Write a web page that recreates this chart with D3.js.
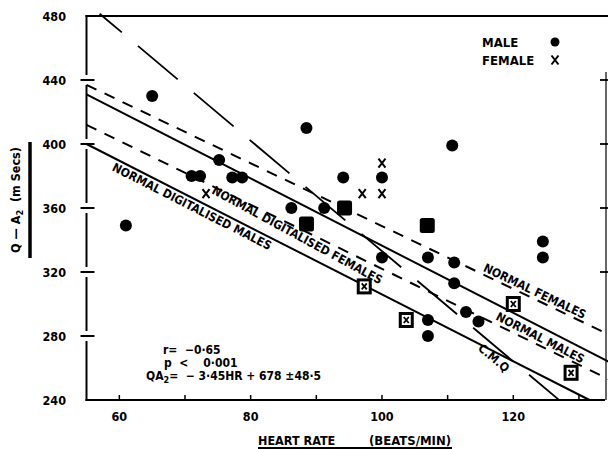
<!DOCTYPE html>
<html>
<head>
<meta charset="utf-8">
<script src="https://cdn.jsdelivr.net/npm/d3@7"></script>
<style>
  body { margin: 0; background: white; }
  svg { display: block; }
</style>
</head>
<body>
<svg id="chart"></svg>
<script>
(function(){

	// data
	var maleHR  = [65, 61, 71, 72.3, 75.2, 77.2, 78.7, 88.5, 86.2, 91.2, 94.1, 100, 100, 107, 107, 107, 111, 111, 110.7, 112.8, 114.7, 124.5, 124.5];
	var maleQA  = [430, 349, 380, 380, 390, 379, 379, 410, 360, 360, 379, 379, 329, 290, 280, 329, 326, 313, 399, 295, 289, 339, 329];
	var femaleHR = [97, 100, 100, 73.2];
	var femaleQA = [369, 369, 388, 369];
	var squareHR = [88.5, 94.3, 106.9];
	var squareQA = [350, 360, 349];
	var boxXHR = [97.3, 103.7, 120, 128.8];
	var boxXQA = [311, 290, 300, 257];

	// reference lines
	var lineNames = ["NORMAL FEMALES", "NORMAL MALES", "NORMAL DIGITALISED FEMALES", "NORMAL DIGITALISED MALES", "C.M.Q"];
	var lineX0 = [55, 55, 55, 55, 57];
	var lineY0 = [437, 431, 412, 400, 481.4];
	var lineX1 = [134.5, 134.5, 134.5, 131.6, 127];
	var lineY1 = [281, 264, 253, 240, 239.9];
	var lineDash = ["11,9", null, "11,9", null, "52,21"];

	// where each label sits along its line (heart rate), and how far off it
	var labelHR = [122.8, 124.8, 87.6, 71.6, 118];
	var labelOff = [-7, 10, 7, 8, 10];
	var labelTilt = [0, 0, 2.5, 0, 0];

	var xTicks = [60, 70, 80, 90, 100, 110, 120, 130];
	var xTickLabels = [60, 80, 100, 120];
	var yTicks = [240, 280, 320, 360, 400, 440, 480];

	var width = 608, height = 449;
	var fontFam = "'DejaVu Sans Condensed', 'Liberation Sans Narrow', 'DejaVu Sans', sans-serif";
	var nb = "\u00a0";

	var svg = d3.select("#chart").attr("width", width).attr("height", height);

	var x = d3.scaleLinear().domain([55, 134.5]).range([86.5, 608.5]);
	var y = d3.scaleLinear().domain([240, 480]).range([400, 16]);

	drawAxes();
	drawLines();
	drawPoints();
	drawText();

	function drawAxes(){
		// left spine, broken where the ticks cross it
		for(var i = 0; i < yTicks.length - 1; i++){
			var top = y(yTicks[i + 1]) + (i == yTicks.length - 2 ? -1 : 5);
			var bot = y(yTicks[i]) - (i == 0 ? -1 : 5);
			svg.append("line").attr("x1", x(55)).attr("x2", x(55)).attr("y1", top).attr("y2", bot)
				.attr("stroke", "black").attr("stroke-width", 2);
		}
		svg.append("line").attr("x1", x(55) - 1).attr("x2", 608).attr("y1", y(480)).attr("y2", y(480))
			.attr("stroke", "black").attr("stroke-width", 2.2);
		svg.append("line").attr("x1", x(55) - 1).attr("x2", 605).attr("y1", y(240)).attr("y2", y(240))
			.attr("stroke", "black").attr("stroke-width", 2.2);
		svg.append("line").attr("x1", 606).attr("x2", 606).attr("y1", y(445)).attr("y2", y(240))
			.attr("stroke", "black").attr("stroke-width", 1.2);

		svg.selectAll(".ytick").data(yTicks.slice(1, -1)).enter().append("line")
			.attr("x1", x(55) - 6).attr("x2", x(55) + 8)
			.attr("y1", function(d){ return y(d); }).attr("y2", function(d){ return y(d); })
			.attr("stroke", "black").attr("stroke-width", 2);
		svg.selectAll(".ytickR").data([440, 400, 360, 320]).enter().append("line")
			.attr("x1", 600).attr("x2", 608)
			.attr("y1", function(d){ return y(d); }).attr("y2", function(d){ return y(d); })
			.attr("stroke", "black").attr("stroke-width", 1.8);
		svg.selectAll(".ylab").data(yTicks).enter().append("text")
			.attr("x", 66).attr("y", function(d){ return y(d) + 4.5; })
			.attr("text-anchor", "end")
			.attr("font-family", fontFam).attr("font-weight", "bold").attr("font-size", 12.5)
			.text(function(d){ return d; });

		svg.selectAll(".xtick").data(xTicks).enter().append("line")
			.attr("x1", function(d){ return x(d); }).attr("x2", function(d){ return x(d); })
			.attr("y1", y(240)).attr("y2", y(240) - 5)
			.attr("stroke", "black").attr("stroke-width", 1.5);
		svg.selectAll(".xlab").data(xTickLabels).enter().append("text")
			.attr("x", function(d){ return x(d); }).attr("y", 421)
			.attr("text-anchor", "middle")
			.attr("font-family", fontFam).attr("font-weight", "bold").attr("font-size", 12.5)
			.text(function(d){ return d; });

		// axis titles
		svg.append("text").attr("x", 258).attr("y", 445)
			.attr("font-family", fontFam).attr("font-weight", "bold").attr("font-size", 12.5)
			.text("HEART RATE");
		svg.append("text").attr("x", 369).attr("y", 445)
			.attr("font-family", fontFam).attr("font-weight", "bold").attr("font-size", 13)
			.text("(BEATS/MIN)");
		svg.append("line").attr("x1", 258).attr("x2", 452).attr("y1", 448).attr("y2", 448)
			.attr("stroke", "black").attr("stroke-width", 1.8);

		var yt = svg.append("text").attr("transform", "translate(20,200) rotate(-90)")
			.attr("text-anchor", "middle")
			.attr("font-family", fontFam).attr("font-weight", "bold").attr("font-size", 12.5);
		yt.append("tspan").text("Q — A");
		yt.append("tspan").attr("font-size", 9).attr("dy", 3).text("2");
		yt.append("tspan").attr("dy", -3).text(nb + nb + "(m Secs)");
		svg.append("line").attr("x1", 30).attr("x2", 30).attr("y1", 142).attr("y2", 258)
			.attr("stroke", "black").attr("stroke-width", 3.5);
	}

	function drawLines(){
		svg.selectAll(".refline").data(lineNames).enter().append("line")
			.attr("class", "refline")
			.attr("x1", function(d, i){ return x(lineX0[i]); })
			.attr("y1", function(d, i){ return y(lineY0[i]); })
			.attr("x2", function(d, i){ return x(lineX1[i]); })
			.attr("y2", function(d, i){ return y(lineY1[i]); })
			.attr("stroke", "black")
			.attr("stroke-width", function(d, i){ return i == 4 ? 1.8 : 2; })
			.attr("stroke-dasharray", function(d, i){ return lineDash[i]; })
			.attr("stroke-dashoffset", function(d, i){ return i == 4 ? 23 : 0; });
	}

	function drawPoints(){
		svg.selectAll(".male").data(maleHR).enter().append("circle")
			.attr("cx", function(d){ return x(d); })
			.attr("cy", function(d, i){ return y(maleQA[i]); })
			.attr("r", 6).attr("fill", "black");

		svg.selectAll(".sq").data(squareHR).enter().append("rect")
			.attr("x", function(d){ return x(d) - 7.5; })
			.attr("y", function(d, i){ return y(squareQA[i]) - 7.5; })
			.attr("width", 15).attr("height", 15).attr("rx", 2.5).attr("fill", "black");

		var bx = svg.selectAll(".boxx").data(boxXHR).enter().append("g")
			.attr("transform", function(d, i){ return "translate(" + x(d) + "," + y(boxXQA[i]) + ")"; });
		bx.append("rect").attr("x", -6).attr("y", -6.5).attr("width", 12).attr("height", 13)
			.attr("fill", "white").attr("stroke", "black").attr("stroke-width", 3);
		bx.append("path").attr("d", "M-2.5,-3L2.5,3M2.5,-3L-2.5,3").attr("stroke", "black").attr("stroke-width", 1.8);

		svg.selectAll(".female").data(femaleHR).enter().append("path")
			.attr("transform", function(d, i){ return "translate(" + x(d) + "," + y(femaleQA[i]) + ")"; })
			.attr("d", "M-3.5,-4.5L3.5,4.5M3.5,-4.5L-3.5,4.5")
			.attr("stroke", "black").attr("stroke-width", 2);
	}

	function drawText(){
		// line labels, rotated to follow their line
		lineNames.forEach(function(name, i){
			var px0 = x(lineX0[i]), py0 = y(lineY0[i]), px1 = x(lineX1[i]), py1 = y(lineY1[i]);
			var ang = Math.atan2(py1 - py0, px1 - px0) * 180 / Math.PI;
			var t = (labelHR[i] - lineX0[i]) / (lineX1[i] - lineX0[i]);
			var lx = x(labelHR[i]), ly = py0 + t * (py1 - py0);
			svg.append("text")
				.attr("transform", "translate(" + lx + "," + ly + ") rotate(" + (ang + labelTilt[i]) + ") translate(0," + (labelOff[i] + 4) + ")")
				.attr("text-anchor", "middle")
				.attr("font-family", fontFam).attr("font-weight", "bold").attr("font-size", 12)
				.text(name);
		});

		// legend
		var legend = svg.append("g").attr("font-family", fontFam).attr("font-weight", "bold").attr("font-size", 13);
		legend.append("text").attr("x", 482).attr("y", 47).text("MALE");
		legend.append("text").attr("x", 482).attr("y", 65).text("FEMALE");
		legend.append("circle").attr("cx", 555).attr("cy", 42).attr("r", 4.5).attr("fill", "black");
		legend.append("path").attr("transform", "translate(555,60)").attr("d", "M-3.5,-4.5L3.5,4.5M3.5,-4.5L-3.5,4.5")
			.attr("stroke", "black").attr("stroke-width", 2);

		// statistics
		var stats = svg.append("g").attr("font-family", fontFam).attr("font-weight", "bold").attr("font-size", 12);
		stats.append("text").attr("x", 163).attr("y", 354).text("r=" + nb + nb + "−0·65");
		stats.append("text").attr("x", 164).attr("y", 367).text("p" + nb + nb + "<" + nb + nb + nb + nb + "0·001");
		var q = stats.append("text").attr("x", 146).attr("y", 380);
		q.append("tspan").text("QA");
		q.append("tspan").attr("font-size", 9).attr("dy", 3).text("2");
		q.append("tspan").attr("dy", -3).text("=" + nb + nb + "−" + nb + "3·45HR + 678 ±48·5");
	}

})();
</script>
</body>
</html>
